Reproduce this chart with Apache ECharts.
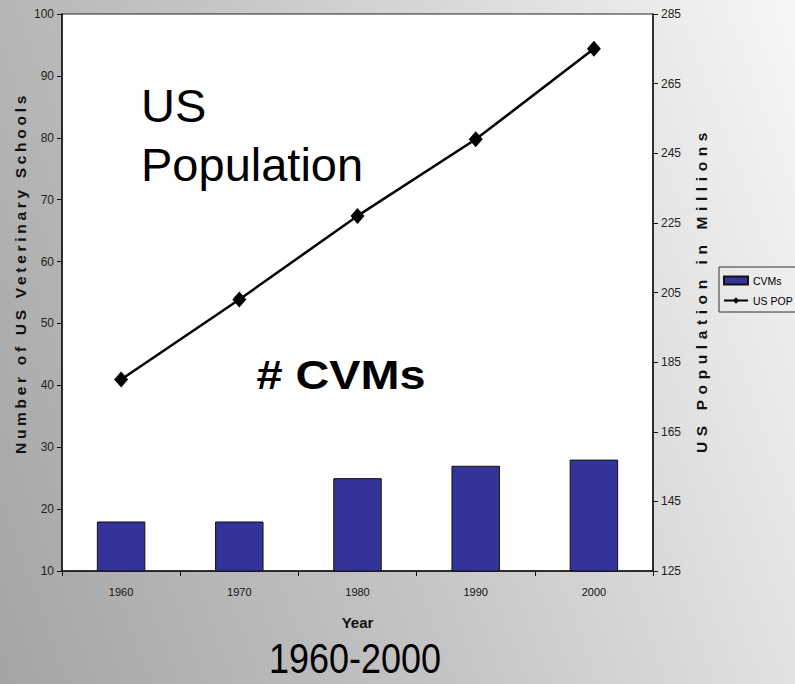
<!DOCTYPE html>
<html>
<head>
<meta charset="utf-8">
<script src="https://cdn.jsdelivr.net/npm/echarts@6/dist/echarts.min.js"></script>
<style>
  html, body { margin: 0; padding: 0; }
  body { background: linear-gradient(70deg, #a4a4a4 0%, #c6c6c6 45%, #f7f7f7 100%); }
  #chart { width: 795px; height: 684px; }
</style>
</head>
<body>
<div id="chart"></div>
<script>
// data
const years = ['1960', '1970', '1980', '1990', '2000']
const cvms = [18, 18, 25, 27, 28]
const usPop = [180, 203, 227, 249, 275]
const leftTicks = { min: 10, max: 100, interval: 10 }
const rightTicks = { min: 125, max: 285, interval: 20 }

const font = 'Liberation Sans, Arial, sans-serif'
const axisLine = { show: true, lineStyle: { color: '#111', width: 1.5 } }

const chart = echarts.init(document.getElementById('chart'), null, { renderer: 'svg' })

const option = {
  animation: false,
  textStyle: { fontFamily: font },
  grid: {
    left: 62, right: 142, top: 14, bottom: 113,
    show: true, backgroundColor: '#fff', borderColor: '#222', borderWidth: 1
  },
  legend: {
    orient: 'vertical',
    left: 719, top: 267,
    padding: [8, 4, 6, 4],
    itemGap: 9,
    itemWidth: 24, itemHeight: 8,
    borderColor: '#333', borderWidth: 1,
    textStyle: { fontSize: 10.5, color: '#000', fontFamily: font },
    data: [{ name: 'CVMs', icon: 'rect' }, { name: 'US POP' }]
  },
  xAxis: {
    type: 'category',
    data: years,
    axisLine: axisLine,
    axisTick: { show: true, length: 5, inside: false, lineStyle: { color: '#111' } },
    axisLabel: { fontSize: 11, color: '#111', margin: 15 },
    name: 'Year',
    nameLocation: 'middle',
    nameGap: 44,
    nameTextStyle: { fontSize: 15, fontWeight: 'bold', color: '#111' }
  },
  yAxis: [
    {
      type: 'value',
      min: leftTicks.min, max: leftTicks.max, interval: leftTicks.interval,
      axisLine: axisLine,
      axisTick: { show: true, length: 5, lineStyle: { color: '#111' } },
      axisLabel: { fontSize: 12, color: '#222', margin: 8 },
      splitLine: { show: false }
    },
    {
      type: 'value',
      position: 'right',
      min: rightTicks.min, max: rightTicks.max, interval: rightTicks.interval,
      axisLine: axisLine,
      axisTick: { show: true, length: 5, lineStyle: { color: '#111' } },
      axisLabel: { fontSize: 12, color: '#222', margin: 8 },
      splitLine: { show: false }
    }
  ],
  series: [
    {
      name: 'CVMs',
      type: 'bar',
      data: cvms,
      barWidth: '41%',
      itemStyle: { color: '#333399', borderColor: '#111', borderWidth: 1 }
    },
    {
      name: 'US POP',
      type: 'line',
      yAxisIndex: 1,
      data: usPop,
      symbol: 'diamond',
      symbolSize: [14, 16],
      lineStyle: { color: '#000', width: 2.5 },
      itemStyle: { color: '#000' }
    }
  ],
  graphic: [
    {
      type: 'text', left: 141, top: 76,
      style: { text: 'US\nPopulation', font: '47px ' + font, lineHeight: 59, fill: '#000' }
    },
    {
      type: 'text', x: 341, y: 375, scaleX: 1.17, originX: 0, originY: 0,
      style: { text: '# CVMs', font: 'bold 40px ' + font, fill: '#000', align: 'center', verticalAlign: 'middle' }
    },
    {
      type: 'text', x: 355, y: 658, scaleY: 1.2, originX: 0, originY: 0,
      style: { text: '1960-2000', font: '36px ' + font, fill: '#000', align: 'center', verticalAlign: 'middle' }
    },
    {
      type: 'text', x: 20, y: 273, rotation: Math.PI / 2, originX: 0, originY: 0,
      style: { text: 'Number of US Veterinary Schools', font: 'bold 15.5px ' + font, fill: '#111', align: 'center', verticalAlign: 'middle' }
    },
    {
      type: 'text', x: 701, y: 290, rotation: Math.PI / 2, originX: 0, originY: 0,
      style: { text: 'US Population in Millions', font: 'bold 15.5px ' + font, fill: '#111', align: 'center', verticalAlign: 'middle' }
    }
  ]
}

chart.setOption(option)

// the axis titles in the original are letter-spaced
const spacing = { 'Number of US Veterinary Schools': 3.7, 'US Population in Millions': 5.6 }
function spaceTitles() {
  document.querySelectorAll('#chart text').forEach(t => {
    const s = spacing[t.textContent]
    if (s) t.setAttribute('letter-spacing', s)
  })
}
spaceTitles()
chart.on('finished', spaceTitles)
</script>
</body>
</html>
